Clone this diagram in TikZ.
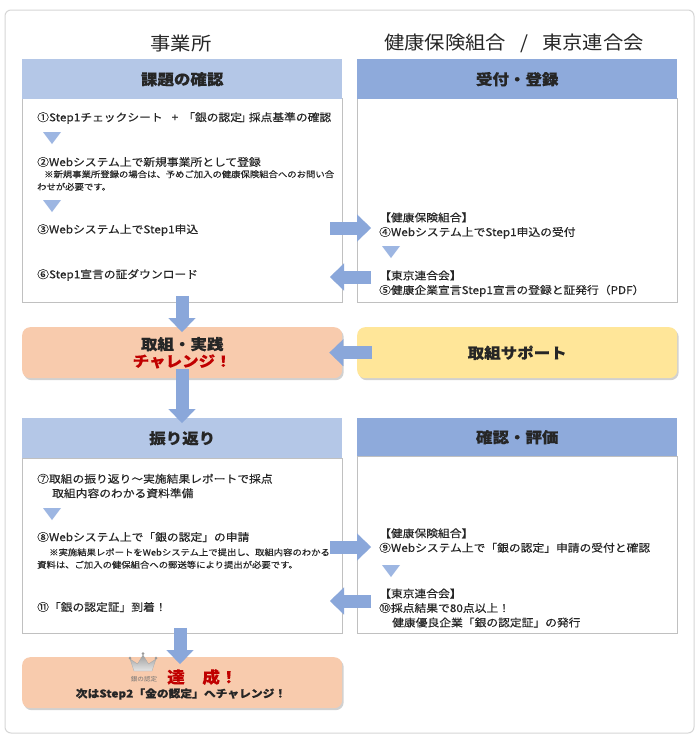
\documentclass[tikz,border=0pt]{standalone}
\usepackage{fontspec}
\setmainfont[FakeStretch=1.1, FakeBold=0.25]{Noto Sans CJK JP}
\newfontfamily\titlefont[FakeStretch=1.1]{Noto Sans CJK JP}
\usetikzlibrary{arrows.meta,shadows}
\definecolor{hdrL}{HTML}{B4C7E7}
\definecolor{hdrD}{HTML}{8EAADB}
\definecolor{arr}{HTML}{8AA7DA}
\definecolor{tric}{HTML}{9DB6E2}
\definecolor{peach}{HTML}{F8CBAD}
\definecolor{yel}{HTML}{FFE699}
\definecolor{bord}{HTML}{C0C0C0}
\definecolor{redt}{HTML}{C00000}
\definecolor{frm}{HTML}{D6D6D6}
\definecolor{txt}{HTML}{262626}
\newcommand\myftitle{\titlefont\fontsize{18.5}{22}\selectfont}
\newcommand\myfhdr{\fontsize{15}{18}\selectfont\bfseries}
\newcommand\myfmain{\fontsize{10.7}{14.5}\selectfont}
\newcommand\myfnote{\fontsize{8.5}{12.5}\selectfont}
\tikzset{
  hdrbox/.style={anchor=north west, minimum width=320pt, minimum height=40pt, inner sep=0pt, font=\myfhdr, text=txt},
  bodybox/.style={anchor=north west, draw=bord, line width=0.8pt, fill=white, minimum width=320pt, inner sep=0pt},
  rbox/.style={anchor=north west, rounded corners=8pt, minimum width=320pt, minimum height=51pt, inner sep=0pt,
    align=center, font=\myfhdr, text=txt,
    drop shadow={shadow xshift=1.5pt, shadow yshift=-2pt, fill=black!40, opacity=0.45}},
  stxt/.style={anchor=west, inner sep=0pt, font=\myfmain, align=left, text=txt},
  ntxt/.style={anchor=west, inner sep=0pt, font=\myfnote, align=left, text=txt},
  ttl/.style={inner sep=0pt, font=\myftitle, text=txt},
  barrow/.style={draw=arr, line width=13pt, -{Triangle[width=27pt,length=14pt,line width=0.1pt]}},
  tri/.pic={\fill[tric] (-9,-6) -- (9,-6) -- (0,6) -- cycle;}
}
\begin{document}
\begin{tikzpicture}[x=1pt,y=-1pt]
\useasboundingbox (0,0) rectangle (700,745);
\fill[white] (0,0) rectangle (700,745);
\draw[frm, line width=1pt, rounded corners=6pt] (5,10) rectangle (694,733);

% titles
\node[ttl] (ttlL) at (181,43) {事業所};
\node[ttl] (ttlR) at (514,43) {健康保険組合\hspace{14pt}/\hspace{14pt}東京連合会};

% top section boxes
\node[bodybox, minimum height=204pt] (lb1) at (22,98) {};
\node[bodybox, minimum height=204pt] (rb1) at (357,98) {};
\node[hdrbox, fill=hdrL] (lh1) at (22,59) {課題の確認};
\node[hdrbox, fill=hdrD] (rh1) at (357,59) {受付・登録};

% top left texts
\node[stxt] (t1) at (37,118) {①Step1チェックシート\hspace{9pt}+\hspace{9pt}\kern-4pt「銀の認定\kern-2pt」\kern-3pt採点基準の確認};
\pic at (52,138) {tri};
\node[stxt] (t2) at (37,162) {②Webシステム上で新規事業所として登録};
\node[ntxt] (n2) at (37,180.5) {\hspace{7pt}※新規事業所登録の場合は、予めご加入の健康保険組合へのお問い合\\わせが必要です。};
\pic at (52,206) {tri};
\node[stxt] (t3) at (37,230) {③Webシステム上でStep1申込};
\node[stxt] (t6) at (37,275) {⑥Step1宣言の証ダウンロード};

% top right texts
\node[stxt] (t4) at (379,225.5) {【健康保険組合】\\④Webシステム上でStep1申込の受付};
\pic at (391,252) {tri};
\node[stxt] (t5) at (379,283.5) {【東京連合会】\\⑤健康企業宣言Step1宣言の登録と証発行（PDF）};

% arrows top section
\coordinate (a3s) at (330,228);
\coordinate (a3e) at (371,228);
\coordinate (a5s) at (371,277);
\coordinate (a5e) at (330,277);
\draw[barrow] (a3s) -- (a3e);
\draw[barrow] (a5s) -- (a5e);

% middle
\node[rbox, fill=peach] (act) at (22,327) {取組・実践\\[-1pt]\textcolor{redt}{チャレンジ！}};
\node[rbox, fill=yel] (sup) at (357,327) {取組サポート};
\draw[barrow] ([yshift=7pt]lb1.south -| 182,0) -- ([yshift=-5pt]act.north -| 182,0);
\draw[barrow] ([xshift=15pt]sup.west) -- ([xshift=-13pt]act.east);

% bottom section boxes
\node[bodybox, minimum height=175pt] (lb2) at (22,458) {};
\node[bodybox, minimum height=177pt] (rb2) at (357,456) {};
\node[hdrbox, fill=hdrL] (lh2) at (22,418) {振り返り};
\node[hdrbox, fill=hdrD, minimum height=38pt] (rh2) at (357,418) {確認・評価};
\draw[barrow] ([yshift=9pt]act.south -| 182,0) -- ([yshift=-5pt]lh2.north -| 182,0);

% bottom left texts
\node[stxt] (t7) at (37,486) {⑦取組の振り返り〜実施結果レポートで採点\\\hspace{15pt}取組内容のわかる資料準備};
\pic at (52,514) {tri};
\node[stxt] (t8) at (37,537) {⑧Webシステム上で「銀の認定」の申請};
\node[ntxt] (n8) at (37,558.5) {\hspace{12pt}※実施結果レポートをWebシステム上で提出し、取組内容のわかる\\資料は、ご加入の健保組合への郵送等により提出が必要です。};
\node[stxt] (t11) at (37,607) {⑪「銀の認定証」到着！};

% bottom right texts
\node[stxt] (t9) at (379,540.5) {【健康保険組合】\\⑨Webシステム上で「銀の認定」申請の受付と確認};
\pic at (391,571) {tri};
\node[stxt] (t10) at (379,608) {【東京連合会】\\⑩採点結果で80点以上！\\\hspace{13pt}健康優良企業「銀の認定証」の発行};

% arrows bottom section
\coordinate (a8s) at (330,547);
\coordinate (a8e) at (371,547);
\coordinate (a10s) at (371,601);
\coordinate (a10e) at (330,601);
\draw[barrow] (a8s) -- (a8e);
\draw[barrow] (a10s) -- (a10e);

% final box
\node[rbox, fill=peach] (goal) at (22,657) {};
\draw[barrow] ([yshift=6pt]lb2.south -| 180,0) -- ([yshift=-7pt]goal.north -| 180,0);
% crown
\shade[top color=gray!75, bottom color=gray!20, draw=gray!70, line width=0.3pt]
  (134,671) -- (130,659) -- (137.5,664) -- (143,655) -- (148.5,664) -- (156,659) -- (152,671) -- cycle;
\fill[gray!80] (130,658) circle (1.5) (143,653.5) circle (1.5) (156,658) circle (1.5);
\node[inner sep=0pt, font=\titlefont\fontsize{6}{7}\selectfont, text=gray!90!black] (crownlbl) at (144,679) {銀の認定};
\node[anchor=west, inner sep=0pt, font=\fontsize{16}{18}\selectfont\bfseries, text=redt] (done) at (167,677) {達　成！};
\node[inner sep=0pt, font=\myfmain\bfseries, text=txt] (next) at (181,694) {次はStep2「金の認定」へチャレンジ！};
\end{tikzpicture}
\end{document}
